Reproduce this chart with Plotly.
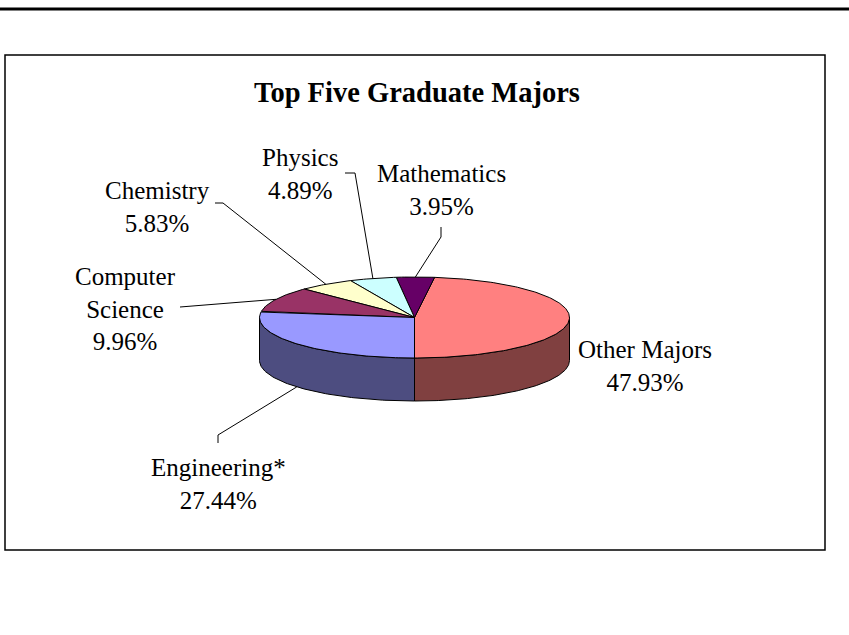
import math
import plotly.graph_objects as go

# ---- data ----
majors = ["Other Majors", "Mathematics", "Physics", "Chemistry", "Computer Science", "Engineering*"]
shares = [47.93, 3.95, 4.89, 5.83, 9.96, 27.44]
label_text = ["Other Majors", "Mathematics", "Physics", "Chemistry", "Computer<br>Science", "Engineering*"]
title_text = "Top Five Graduate Majors"

# ---- styles ----
top_colors = ["#FF8080", "#660066", "#CCFFFF", "#FFFFCC", "#993366", "#9999FF"]
side_colors = ["#804040", "#330033", "#668080", "#808066", "#4D1A33", "#4D4D80"]
W, H = 849, 635
CX, CY, RX, RY, DEPTH = 414.5, 317.5, 155.0, 40.5, 43.0
START = -90.0  # degrees, 6 o'clock; slices go counter-clockwise on screen
FONT = "Liberation Serif, Times New Roman, serif"
LABEL_SIZE = 25

# label anchor (text centre) and leader-line label end points (style only)
label_pos = {
    "Other Majors": dict(x=645, y=366, leader=None),
    "Mathematics": dict(x=441, y=190, leader=[(441, 227), (441, 237)]),
    "Physics": dict(x=300, y=174, leader=[(345, 173), (355, 173)]),
    "Chemistry": dict(x=157, y=207, leader=[(215, 203), (223, 203)]),
    "Computer Science": dict(x=125, y=309, leader=[(180, 307)]),
    "Engineering*": dict(x=218, y=484, leader=[(218, 443), (218, 435)]),
}


def ell(theta_deg, dy=0.0):
    t = math.radians(theta_deg)
    return CX + RX * math.cos(t), CY - RY * math.sin(t) + dy


def arc(a, b, dy=0.0, step=1.0):
    n = max(2, int(abs(b - a) / step) + 1)
    return [ell(a + (b - a) * i / (n - 1), dy) for i in range(n)]


# slice angle ranges computed from the data
total = sum(shares)
ranges = []
acc = START
for v in shares:
    span = 360.0 * v / total
    ranges.append((acc, acc + span))
    acc += span

fig = go.Figure()

# side walls (front half only)
for i, (a, b) in enumerate(ranges):
    for lo_v, hi_v in [(-180.0, 0.0), (180.0, 360.0)]:
        lo, hi = max(a, lo_v), min(b, hi_v)
        if hi - lo > 0.01:
            top = arc(lo, hi)
            bot = arc(hi, lo, DEPTH)
            pts = top + bot + [top[0]]
            fig.add_trace(go.Scatter(
                x=[p[0] for p in pts], y=[p[1] for p in pts],
                mode="lines", fill="toself", fillcolor=side_colors[i],
                line=dict(color="black", width=1), hoverinfo="skip", showlegend=False))

# top faces
for i, (a, b) in enumerate(ranges):
    pts = [(CX, CY)] + arc(a, b) + [(CX, CY)]
    fig.add_trace(go.Scatter(
        x=[p[0] for p in pts], y=[p[1] for p in pts],
        mode="lines", fill="toself", fillcolor=top_colors[i],
        line=dict(color="black", width=1), name=majors[i],
        hoverinfo="name", showlegend=False))

annotations = []
shapes = []

# labels + leader lines
for i, name in enumerate(majors):
    lp = label_pos[name]
    annotations.append(dict(
        x=lp["x"], y=lp["y"], xref="x", yref="y",
        text=f"{label_text[i]}<br>{shares[i]:.2f}%",
        showarrow=False, xanchor="center", yanchor="middle", align="center",
        font=dict(family=FONT, size=LABEL_SIZE, color="black")))
    if lp["leader"]:
        a, b = ranges[i]
        mid = (a + b) / 2
        m = mid % 360
        dy = DEPTH if 180 < m < 360 else 0.0
        px, py = ell(mid, dy)
        pts = lp["leader"] + [(px, py)]
        path = "M " + " L ".join(f"{x:.1f},{y:.1f}" for x, y in pts)
        shapes.append(dict(type="path", path=path, xref="x", yref="y",
                           line=dict(color="black", width=1)))

# title
annotations.append(dict(
    x=416.5, y=92, xref="x", yref="y", text=f"<b>{title_text}</b>",
    showarrow=False, xanchor="center", yanchor="middle",
    font=dict(family=FONT, size=28.5, color="black")))

# chart frame and top rule
shapes.append(dict(type="rect", x0=5, x1=825, y0=55, y1=550, xref="x", yref="y",
                   line=dict(color="black", width=1.5), layer="below"))
shapes.append(dict(type="line", x0=0, x1=W, y0=9, y1=9, xref="x", yref="y",
                   line=dict(color="black", width=3)))

fig.update_layout(
    width=W, height=H,
    margin=dict(l=0, r=0, t=0, b=0),
    paper_bgcolor="white", plot_bgcolor="white",
    xaxis=dict(range=[0, W], visible=False, fixedrange=True),
    yaxis=dict(range=[H, 0], visible=False, fixedrange=True),
    annotations=annotations, shapes=shapes, showlegend=False,
)

fig.write_html(
    "out.html",
    config={"displayModeBar": False},
    post_script="document.body.style.margin='0';document.body.style.overflow='hidden';",
)
